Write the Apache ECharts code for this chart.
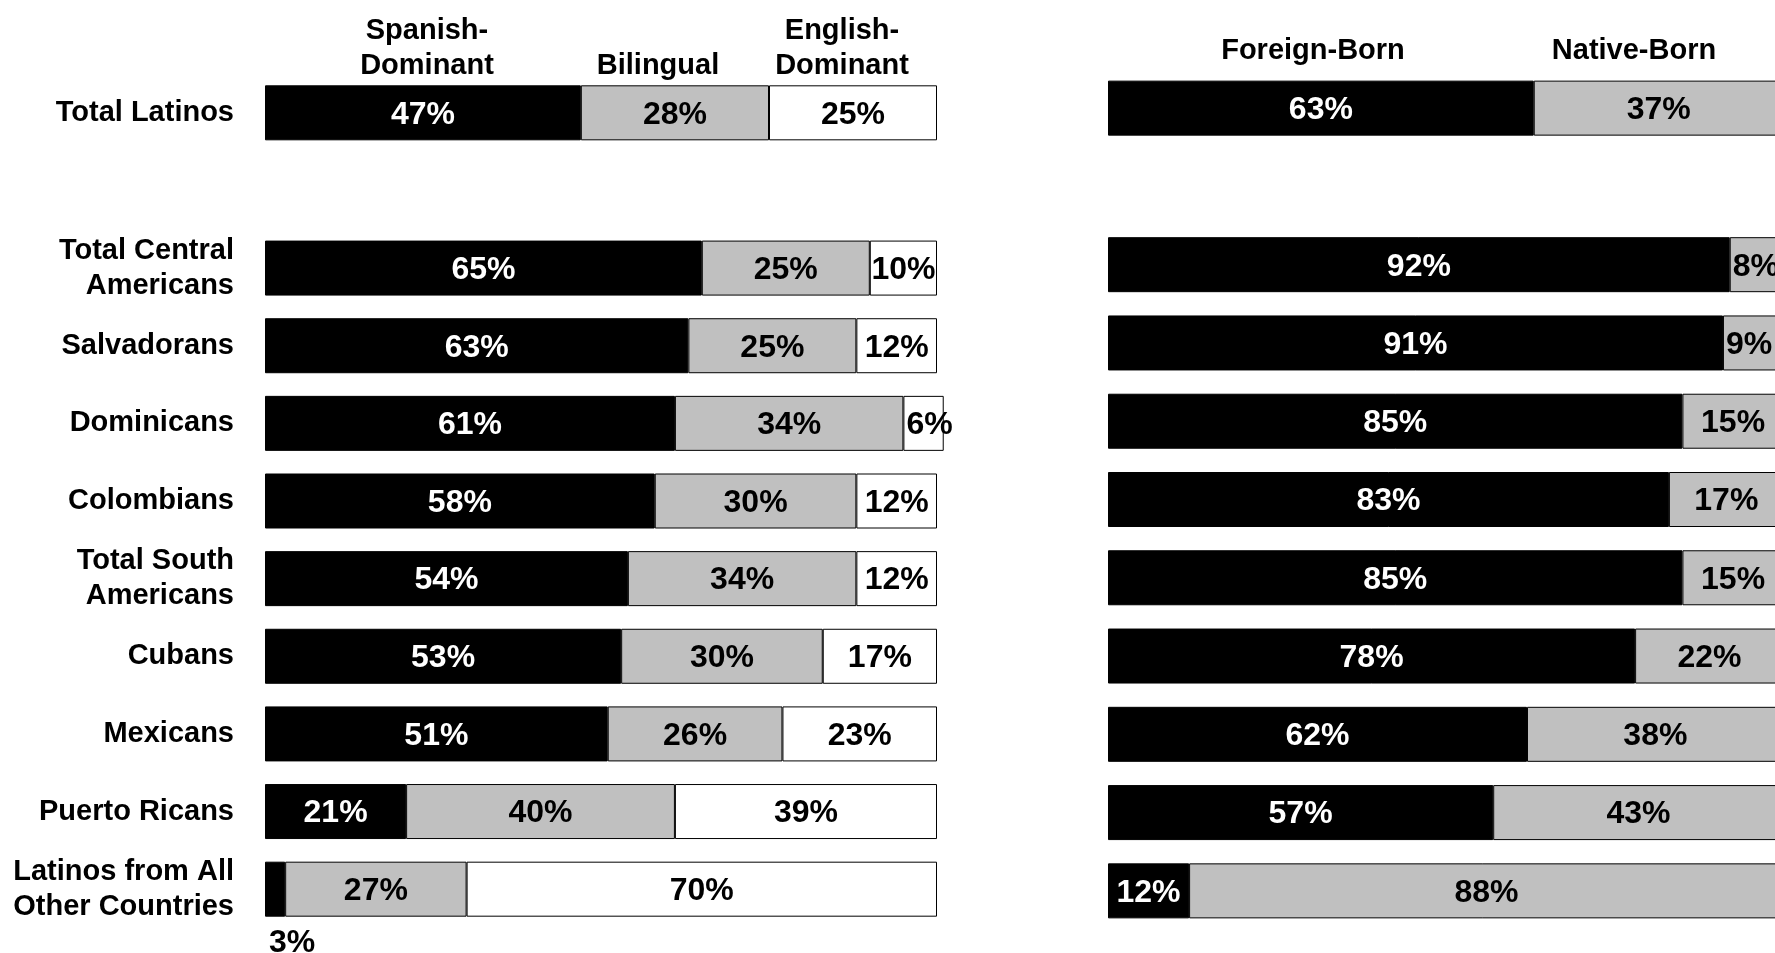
<!DOCTYPE html>
<html>
<head>
<meta charset="utf-8">
<script src="https://cdn.jsdelivr.net/npm/echarts@6/dist/echarts.min.js"></script>
<style>
  html, body { margin: 0; padding: 0; background: #fff; }
  #chart { width: 1775px; height: 953px; }
</style>
</head>
<body>
<div id="chart"></div>
<script>
// groups (top to bottom) and shares in %
var groups = ['Total Latinos', 'Total Central\nAmericans', 'Salvadorans', 'Dominicans', 'Colombians',
  'Total South\nAmericans', 'Cubans', 'Mexicans', 'Puerto Ricans', 'Latinos from All\nOther Countries']
var spanishDominant = [47, 65, 63, 61, 58, 54, 53, 51, 21, 3]
var bilingual = [28, 25, 25, 34, 30, 34, 30, 26, 40, 27]
var englishDominant = [25, 10, 12, 6, 12, 12, 17, 23, 39, 70]
var foreignBorn = [63, 92, 91, 85, 83, 85, 78, 62, 57, 12]
var nativeBorn = [37, 8, 9, 15, 17, 15, 22, 38, 43, 88]
var langHeaders = ['Spanish-\nDominant', 'Bilingual', 'English-\nDominant']
var birthHeaders = ['Foreign-Born', 'Native-Born']

var FONT = '"Liberation Sans", Arial, Helvetica, sans-serif'

// blank row after the total
var cats = [groups[0], ''].concat(groups.slice(1))

function build (vals) {
  var arr = vals.map(function (v) {
    var d = { value: v }
    if (v < 5) {
      d.label = { position: 'bottom', color: '#000', offset: [17, 5] }
    } else if (v < 10) {
      d.label = { position: 'insideLeft', distance: 3 }
    }
    return d
  })
  arr.splice(1, 0, '-')
  return arr
}

function seg (name, vals, fill, textColor, axis, stack) {
  return {
    name: name,
    type: 'bar',
    stack: stack,
    xAxisIndex: axis,
    yAxisIndex: axis,
    barWidth: 55,
    clip: false,
    data: build(vals),
    itemStyle: { color: fill, borderColor: '#000', borderWidth: 1 },
    label: {
      show: true,
      position: 'inside',
      formatter: '{c}%',
      color: textColor,
      fontFamily: FONT,
      fontWeight: 'bold',
      fontSize: 32,
      offset: [0, 2]
    },
    emphasis: { disabled: true }
  }
}

var chart = echarts.init(document.getElementById('chart'), null, { renderer: 'canvas' })

var headerPos = [[427, 83], [658, 83], [842, 83]]
var birthPos = [[1313, 68], [1634, 68]]
var graphics = []
langHeaders.forEach(function (t, i) {
  graphics.push({ type: 'text', x: headerPos[i][0], y: headerPos[i][1],
    style: { text: t, align: 'center', verticalAlign: 'bottom', fontFamily: FONT, fontWeight: 'bold', fontSize: 29, lineHeight: 35, fill: '#000' } })
})
birthHeaders.forEach(function (t, i) {
  graphics.push({ type: 'text', x: birthPos[i][0], y: birthPos[i][1],
    style: { text: t, align: 'center', verticalAlign: 'bottom', fontFamily: FONT, fontWeight: 'bold', fontSize: 29, lineHeight: 35, fill: '#000' } })
})

var option = {
  animation: false,
  backgroundColor: '#fff',
  graphic: graphics,
  grid: [
    { left: 265, width: 672, top: 74, height: 854 },
    // right panel runs past the page edge: 100% would sit at ~1784px
    { left: 1108, right: 0, top: 69, height: 861 }
  ],
  xAxis: [
    { type: 'value', gridIndex: 0, min: 0, max: 100, show: false },
    { type: 'value', gridIndex: 1, min: 0, max: 98.7, show: false }
  ],
  yAxis: [
    {
      type: 'category', gridIndex: 0, inverse: true, data: cats,
      axisLine: { show: false }, axisTick: { show: false },
      axisLabel: { margin: 31, color: '#000', fontFamily: FONT, fontWeight: 'bold', fontSize: 29, lineHeight: 35 }
    },
    {
      type: 'category', gridIndex: 1, inverse: true, data: cats,
      axisLine: { show: false }, axisTick: { show: false }, axisLabel: { show: false }
    }
  ],
  series: [
    seg('Spanish-Dominant', spanishDominant, '#000000', '#ffffff', 0, 'lang'),
    seg('Bilingual', bilingual, '#c0c0c0', '#000000', 0, 'lang'),
    seg('English-Dominant', englishDominant, '#ffffff', '#000000', 0, 'lang'),
    seg('Foreign-Born', foreignBorn, '#000000', '#ffffff', 1, 'birth'),
    seg('Native-Born', nativeBorn, '#c0c0c0', '#000000', 1, 'birth')
  ]
}

chart.setOption(option)
window.addEventListener('resize', function () { chart.resize() })
</script>
</body>
</html>
